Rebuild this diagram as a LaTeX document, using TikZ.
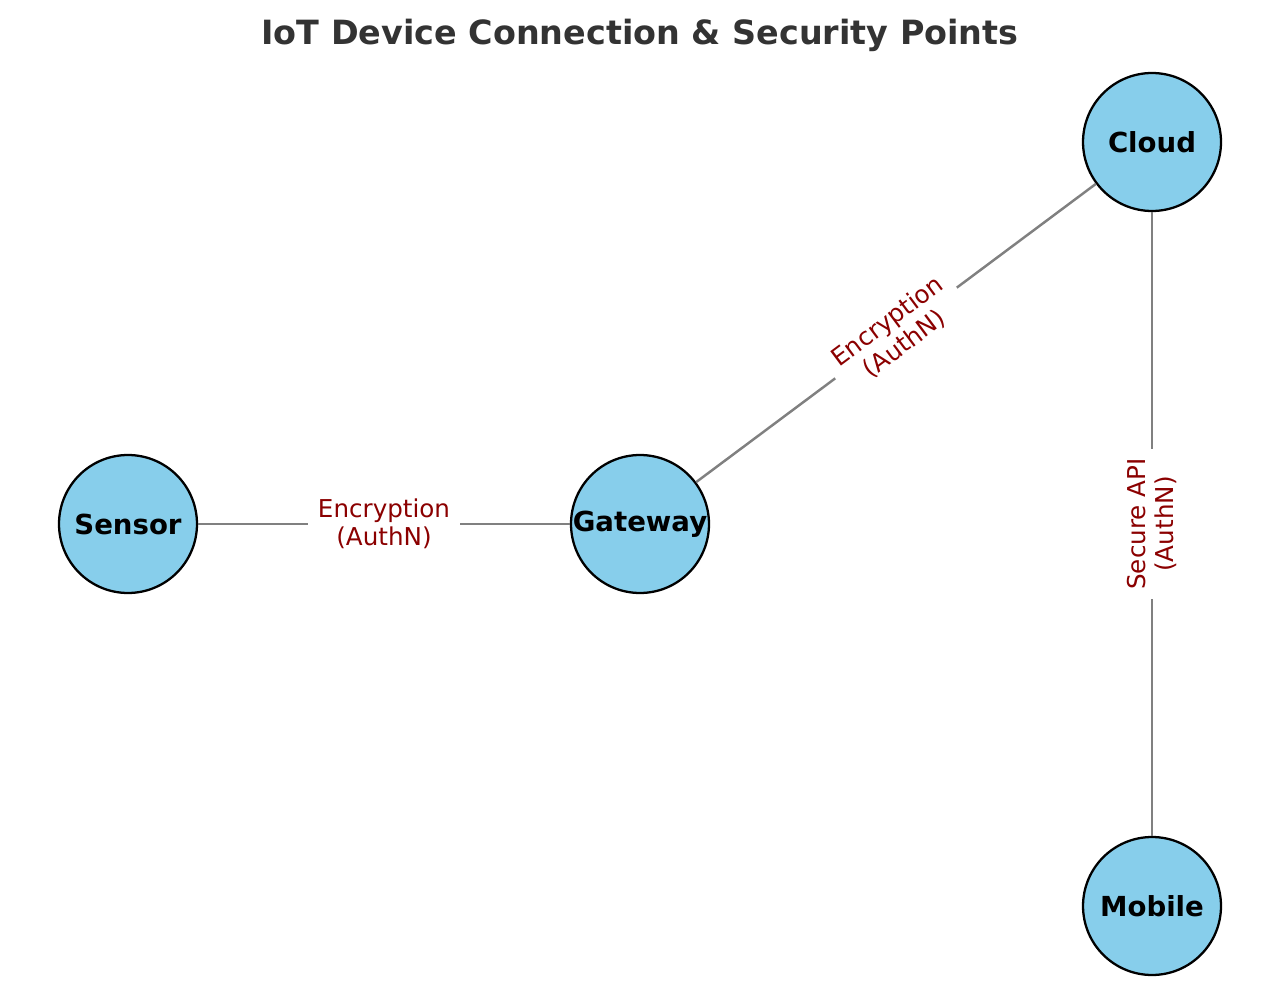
\documentclass[tikz,border=0pt]{standalone}
\usepackage{fontspec}
\setmainfont{DejaVu Sans}
\usepackage{xcolor}
\definecolor{IOTblue}{HTML}{87CEEB}
\definecolor{IOTred}{HTML}{8B0000}
\definecolor{IOTgrey}{HTML}{808080}
\definecolor{IOTtitle}{HTML}{333333}
\usetikzlibrary{positioning}

\begin{document}
\begin{tikzpicture}[x=0.02cm,y=-0.02cm,
  device/.style={circle,draw=black,line width=1.3pt,fill=IOTblue,
    minimum size=2.76cm,inner sep=0pt,
    font=\fontsize{15.7}{18}\selectfont\bfseries},
  link/.style={draw=IOTgrey,line width=1.4pt},
  secure/.style={fill=white,text=IOTred,align=center,inner xsep=5.5pt,inner ysep=3pt,
    font=\fontsize{14}{16}\selectfont}]
\useasboundingbox (0,0) rectangle (1280,1006);
\node[font=\fontsize{19}{22}\selectfont\bfseries,text=IOTtitle] (title) at (640,35)
  {IoT Device Connection \& Security Points};
% devices
\node[device] (sensor) at (128,524) {Sensor};
\node[device] (gateway) at (640,524) {Gateway};
\node[device] (cloud) at (1152,142) {Cloud};
\node[device] (mobile) at (1152,906) {Mobile};
% links
\draw[link] (sensor) -- node[secure] {Encryption\\(AuthN)} (gateway);
\draw[link] (gateway) -- node[secure,sloped] {Encryption\\(AuthN)} (cloud);
\draw[link] (mobile) -- node[secure,sloped] {Secure API\\(AuthN)} (cloud);
\end{tikzpicture}
\end{document}
